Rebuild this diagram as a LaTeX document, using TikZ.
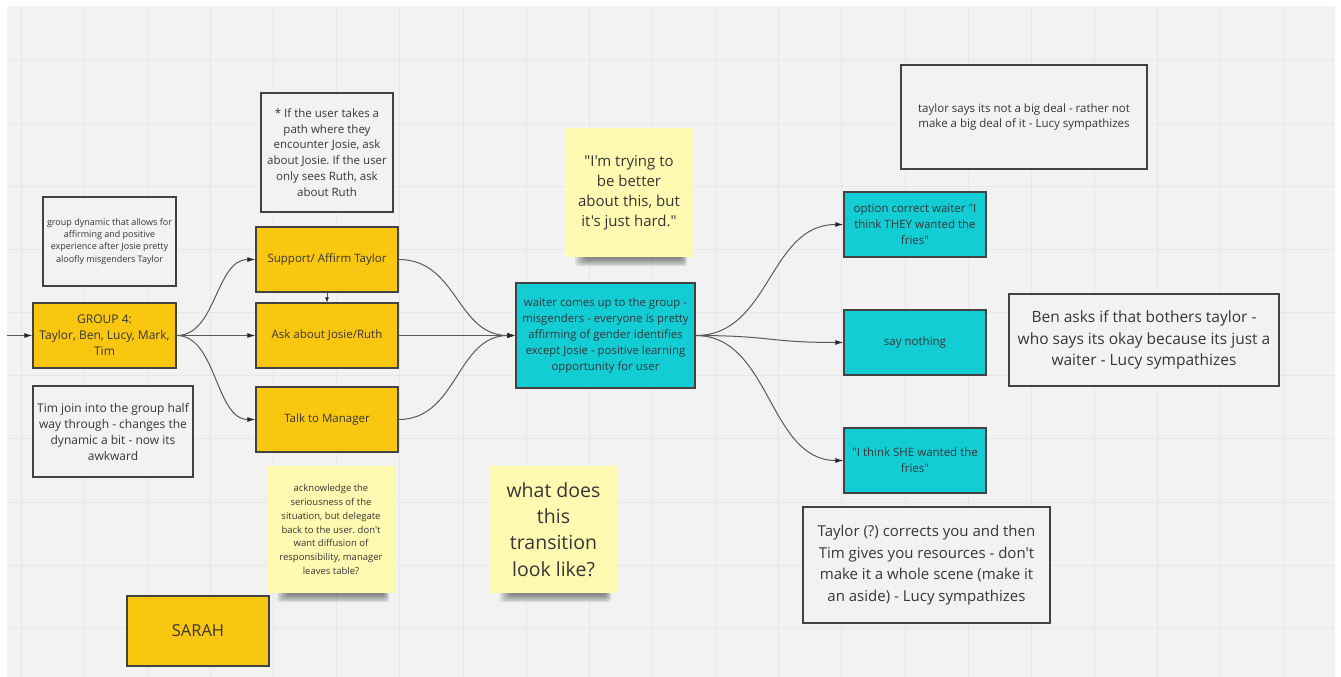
\documentclass[tikz,border=0pt]{standalone}
\usepackage{fontspec}
\newfontfamily\osans{Open Sans}
\usetikzlibrary{arrows.meta,calc}
\frenchspacing

\definecolor{canvas}{HTML}{F2F2F2}
\definecolor{gridline}{HTML}{E7E7E7}
\definecolor{mirogold}{HTML}{FAC710}
\definecolor{miroteal}{HTML}{12CDD4}
\definecolor{stickyyellow}{HTML}{FFF9B1}
\definecolor{ink}{HTML}{363636}
\definecolor{edgegray}{HTML}{424242}
\definecolor{wire}{HTML}{5A5A5A}

\pgfdeclarelayer{grid}
\pgfdeclarelayer{shadow}
\pgfsetlayers{grid,shadow,main}

\tikzset{
  txt/.style 2 args={font=\osans\fontsize{#1}{#2}\selectfont},
  base/.style={text=ink, align=center, inner sep=0pt, anchor=center},
  goldbox/.style={base, draw=edgegray, line width=1.3pt, fill=mirogold},
  tealbox/.style={base, draw=edgegray, line width=1.3pt, fill=miroteal},
  memo/.style={base, draw=edgegray, line width=1.3pt, fill=canvas},
  sticky/.style={base, fill=stickyyellow},
  conn/.style={draw=wire, line width=1pt, -{Latex[length=8pt,width=5pt,color=black!85]}},
  gridrule/.style={draw=gridline, line width=1pt},
}

% soft shadow under the lower edge of a sticky note
\newcommand{\stickyshadow}[1]{%
  \begin{pgfonlayer}{shadow}
    \foreach \i in {0,...,5}{
      \fill[black, opacity=0.085, rounded corners=3pt]
        ($(#1.south west)+({10+2*\i},-2)$) rectangle ($(#1.south east)+({-6-\i},{9-1.3*\i})$);
    }
  \end{pgfonlayer}}

\begin{document}
\begin{tikzpicture}[x=1pt, y=-1pt]
  \useasboundingbox (0,0) rectangle (1341,677);

  % board background and grid
  \begin{pgfonlayer}{grid}
    \fill[white] (0,0) rectangle (1341,677);
    \fill[canvas] (7,6) rectangle (1335,677);
    \foreach \k in {0,...,20}{
      \draw[gridrule] ({21+63.15*\k},6) -- ({21+63.15*\k},677);
    }
    \foreach \k in {0,...,9}{
      \draw[gridrule] (7,{60+63.15*\k}) -- (1335,{60+63.15*\k});
    }
  \end{pgfonlayer}

  % left column
  \node[memo, txt={9}{12.2}, minimum width=133pt, minimum height=89pt] (dyn) at (109.5,241.5)
    {group dynamic that allows for\\affirming and positive\\experience after Josie pretty\\aloofly misgenders Taylor};
  \node[goldbox, txt={12}{16}, minimum width=143pt, minimum height=65pt] (group) at (104.5,335.5)
    {GROUP 4:\\Taylor, Ben, Lucy, Mark,\\Tim};
  \node[memo, txt={12}{16}, minimum width=160pt, minimum height=91pt] (timnote) at (113,431.5)
    {Tim join into the group half\\way through - changes the\\dynamic a bit - now its\\awkward};
  \node[goldbox, txt={16.5}{20}, minimum width=142pt, minimum height=70pt] (sarah) at (198,631)
    {SARAH};

  % choices column
  \node[memo, txt={11.5}{15.7}, minimum width=132pt, minimum height=119pt] (starnote) at (327,152.5)
    {* If the user takes a\\path where they\\encounter Josie, ask\\about Josie. If the user\\only sees Ruth, ask\\about Ruth};
  \node[goldbox, txt={11.5}{15.7}, minimum width=142pt, minimum height=65pt] (support) at (327,259.5)
    {Support/ Affirm Taylor};
  \node[goldbox, txt={11.5}{15.7}, minimum width=142pt, minimum height=65pt] (ask) at (327,335.5)
    {Ask about Josie/Ruth};
  \node[goldbox, txt={11.5}{15.7}, minimum width=142pt, minimum height=65pt] (talk) at (327,419.5)
    {Talk to Manager};

  % sticky notes
  \node[sticky, txt={9.5}{13.7}, minimum width=128pt, minimum height=127pt] (ack) at (331,529.5)
    {acknowledge the\\seriousness of the\\situation, but delegate\\back to the user. don't\\want diffusion of\\responsibility, manager\\leaves table?};
  \node[sticky, txt={19.5}{26.4}, minimum width=127pt, minimum height=127pt] (transition) at (553.5,529.5)
    {what does\\this\\transition\\look like?};
  \node[sticky, txt={15}{20}, minimum width=128pt, minimum height=129pt] (trying) at (629,192.5)
    {"I'm trying to\\be better\\about this, but\\it's just hard."};
  \stickyshadow{ack}
  \stickyshadow{transition}
  \stickyshadow{trying}

  % waiter scene and responses
  \node[tealbox, txt={11.4}{16}, minimum width=179pt, minimum height=105pt] (waiter) at (605.5,335.5)
    {waiter comes up to the group -\\misgenders - everyone is pretty\\affirming of gender identifies\\except Josie - positive learning\\opportunity for user};
  \node[tealbox, txt={11.5}{15.7}, minimum width=142pt, minimum height=65pt] (correct) at (915,224.5)
    {option correct waiter "I\\think THEY wanted the\\fries"};
  \node[tealbox, txt={11.5}{15.7}, minimum width=142pt, minimum height=65pt] (nothing) at (915,342.5)
    {say nothing};
  \node[tealbox, txt={11.5}{15.7}, minimum width=142pt, minimum height=65pt] (she) at (915,460.5)
    {"I think SHE wanted the\\fries"};

  % outcome notes
  \node[memo, txt={11.5}{15.7}, minimum width=246pt, minimum height=104pt] (shrug) at (1024,117)
    {taylor says its not a big deal - rather not\\make a big deal of it - Lucy sympathizes};
  \node[memo, txt={15.5}{21.5}, minimum width=270pt, minimum height=92pt] (benasks) at (1144,340)
    {Ben asks if that bothers taylor -\\who says its okay because its just a\\waiter - Lucy sympathizes};
  \node[memo, txt={15}{21.7}, minimum width=247pt, minimum height=116pt] (resources) at (926.5,565)
    {Taylor (?) corrects you and then\\Tim gives you resources - don't\\make it a whole scene (make it\\an aside) - Lucy sympathizes};

  % connectors
  \coordinate (entry) at (7,335.5);
  \draw[conn] (entry) -- (group.west);
  \draw[conn] (group.east) .. controls +(40,0) and +(-40,0) .. (support.west);
  \draw[conn] (group.east) -- (ask.west);
  \draw[conn] (group.east) .. controls +(40,0) and +(-40,0) .. (talk.west);
  \draw[conn, -{Latex[length=5pt,width=4pt,color=black!85]}, line width=0.7pt] (support.south) -- (ask.north);
  \draw[conn] (support.east) .. controls +(59,0) and +(-59,0) .. (waiter.west);
  \draw[conn] (ask.east) -- (waiter.west);
  \draw[conn] (talk.east) .. controls +(59,0) and +(-59,0) .. (waiter.west);
  \draw[conn] (waiter.east) .. controls +(75,0) and +(-75,0) .. (correct.west);
  \draw[conn] (waiter.east) .. controls +(75,0) and +(-75,0) .. (nothing.west);
  \draw[conn] (waiter.east) .. controls +(75,0) and +(-75,0) .. (she.west);
\end{tikzpicture}
\end{document}
